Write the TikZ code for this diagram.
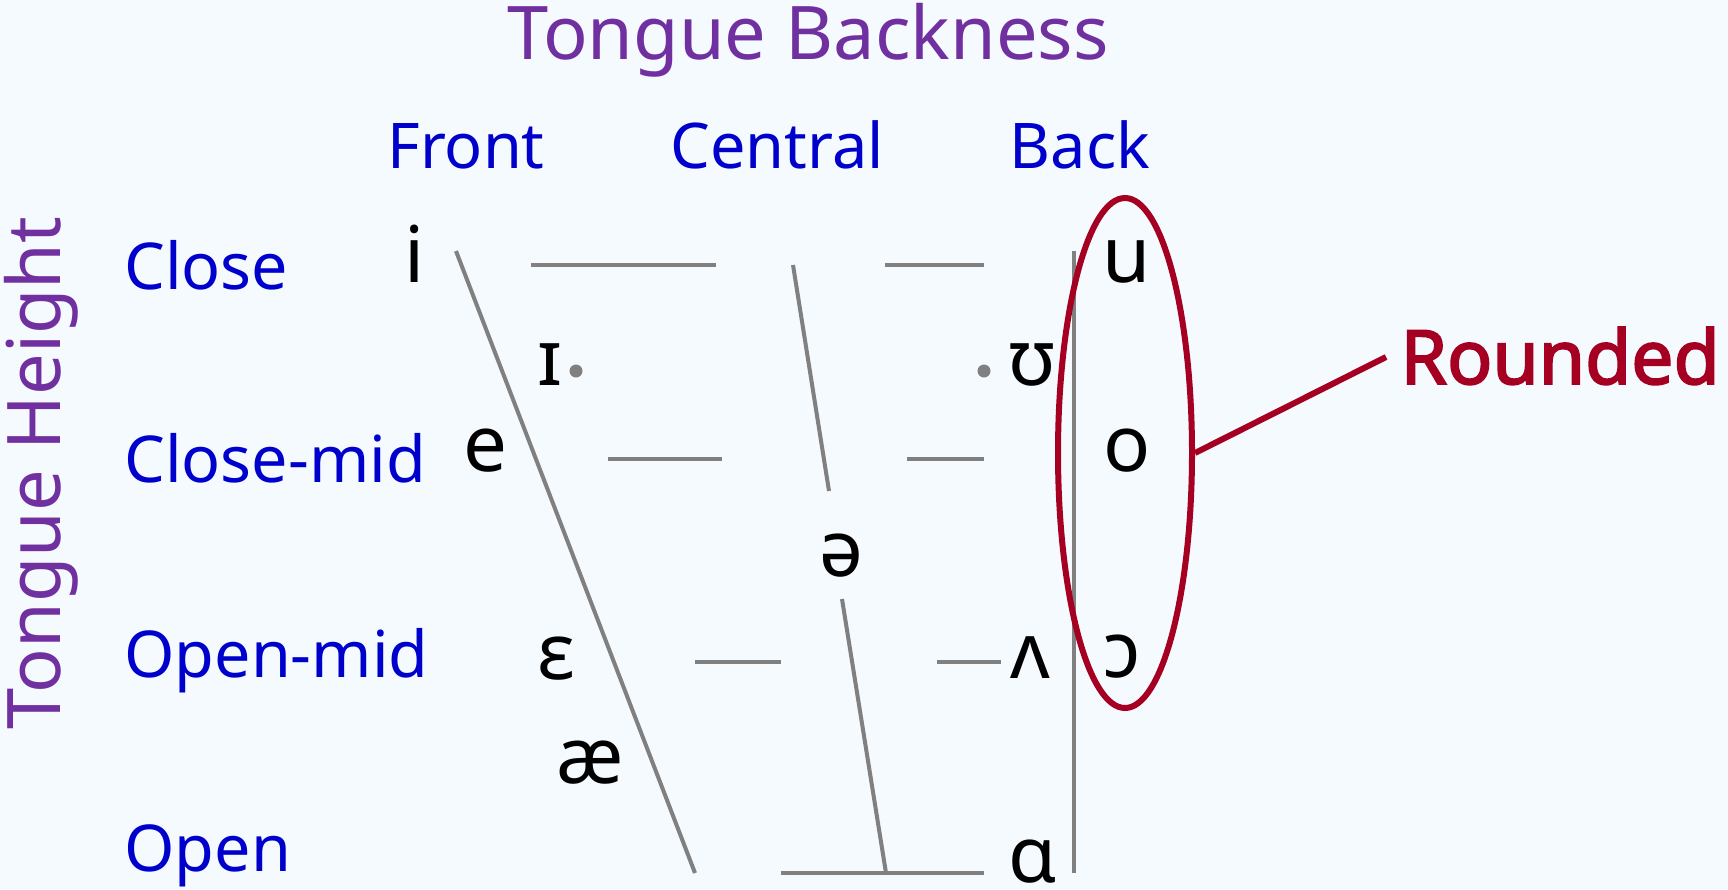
\documentclass[tikz,border=0pt]{standalone}
\usepackage{fontspec}
\setmainfont{Noto Sans}[AutoFakeBold=2.5]
\usetikzlibrary{shapes.geometric}
\definecolor{bg}{RGB}{245,250,254}
\definecolor{purp}{RGB}{112,48,160}
\definecolor{lblue}{RGB}{0,0,204}
\definecolor{crim}{RGB}{165,0,33}
\definecolor{ggray}{RGB}{128,128,128}
\tikzset{
  ttl/.style={text=purp, font=\fontsize{37}{44}\selectfont, inner sep=0pt, anchor=base},
  colhead/.style={text=lblue, font=\fontsize{31.5}{38}\selectfont, inner sep=0pt, anchor=base},
  rowhead/.style={text=lblue, font=\fontsize{32.3}{38}\selectfont, inner sep=0pt, anchor=base west},
  vow/.style={text=black, font=\fontsize{39}{46}\selectfont, inner sep=0pt, anchor=base},
  gridline/.style={draw=ggray, line width=2pt},
  gdot/.style={circle, fill=ggray, inner sep=0pt, minimum size=6.5pt},
  redline/.style={draw=crim, line width=3pt},
}
\begin{document}
\begin{tikzpicture}[x=0.5pt,y=-0.5pt]
\fill[bg] (0,0) rectangle (1728,889);
\useasboundingbox (0,0) rectangle (1728,889);

% titles
\node[ttl] (tb) at (808,59) {Tongue Backness};
\node[ttl, rotate=90] (th) at (60,473) {Tongue Height};

% column headers
\node[colhead] (front) at (466,168) {Front};
\node[colhead] (central) at (777,168) {Central};
\node[colhead] (back) at (1080,168) {Back};

% row headers
\node[rowhead] (close) at (124,289) {Close};
\node[rowhead] (closemid) at (124,482) {Close-mid};
\node[rowhead] (openmid) at (124,677) {Open-mid};
\node[rowhead] (open) at (124,871) {Open};

% grid coordinates
\coordinate (fd1) at (456,251); \coordinate (fd2) at (695,873);
\coordinate (c1a) at (531,265); \coordinate (c1b) at (716,265);
\coordinate (cu1) at (793,265); \coordinate (cu2) at (829,491);
\coordinate (c2a) at (885,265); \coordinate (c2b) at (984,265);
\coordinate (bv1) at (1074,251); \coordinate (bv2) at (1074,873);
\coordinate (m1a) at (608,459); \coordinate (m1b) at (722,459);
\coordinate (m2a) at (907,459); \coordinate (m2b) at (984,459);
\coordinate (cl1) at (842,599); \coordinate (cl2) at (886,873);
\coordinate (o1a) at (695,662); \coordinate (o1b) at (781,662);
\coordinate (o2a) at (937,662); \coordinate (o2b) at (1001,662);
\coordinate (op1) at (781,873); \coordinate (op2) at (984,873);

\draw[gridline] (fd1) -- (fd2);
\draw[gridline] (c1a) -- (c1b);
\draw[gridline] (cu1) -- (cu2);
\draw[gridline] (c2a) -- (c2b);
\draw[gridline] (bv1) -- (bv2);
\draw[gridline] (m1a) -- (m1b);
\draw[gridline] (m2a) -- (m2b);
\draw[gridline] (cl1) -- (cl2);
\draw[gridline] (o1a) -- (o1b);
\draw[gridline] (o2a) -- (o2b);
\draw[gridline] (op1) -- (op2);

\node[gdot] (dot1) at (576,371) {};
\node[gdot] (dot2) at (984,371) {};

% vowels
\node[vow] (vi) at (415,282) {i};
\node[vow] (vI) at (550,385) {ɪ};
\node[vow] (vU) at (1032,385) {ʊ};
\node[vow] (ve) at (485,471) {e};
\node[vow] (vu) at (1127,282) {u};
\node[vow] (vo) at (1127,471) {o};
\node[vow] (vO) at (1122,677) {ɔ};
\node[vow] (vV) at (1030,678) {ʌ};
\node[vow] (vE) at (556,679) {ɛ};
\node[vow] (vschwa) at (841,576) {ə};
\node[vow] (vae) at (590,783) {æ};
\node[vow] (vA) at (1032,882) {ɑ};

% rounded
\node[redline, ellipse, minimum width=67pt, minimum height=255pt, inner sep=0pt] (rnd) at (1125,453) {};
\node[text=crim, font=\fontsize{37.5}{44}\selectfont\bfseries, inner sep=0pt, anchor=base west] (rlab) at (1400,384) {Rounded};
\coordinate (rend) at (1386,357);
\draw[redline] (rnd.east) -- (rend);
\end{tikzpicture}
\end{document}
